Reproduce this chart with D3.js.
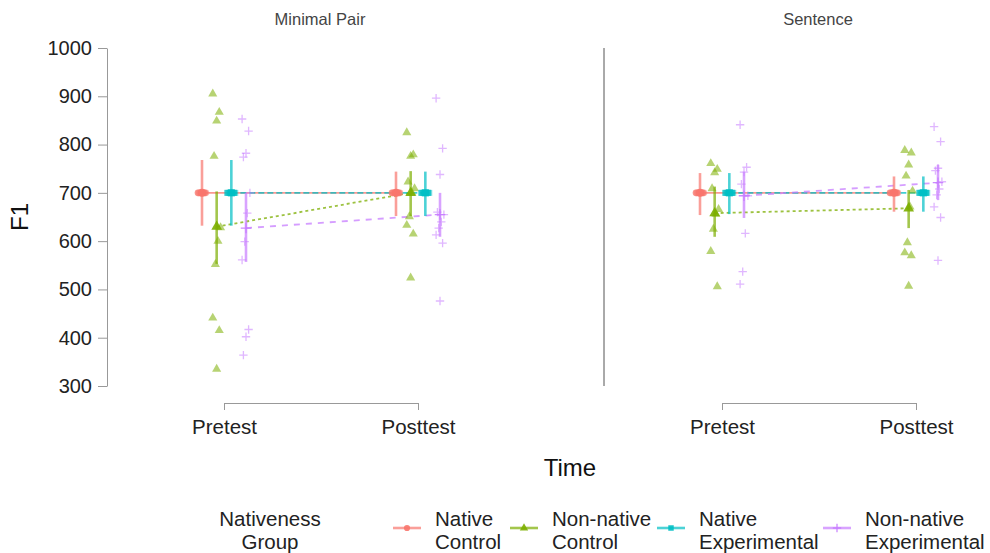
<!DOCTYPE html>
<html>
<head>
<style>
body { margin: 0; background: #fff; }
text { font-family: "Liberation Sans", Arial, sans-serif; }
</style>
</head>
<body>
<script src="https://cdn.jsdelivr.net/npm/d3@7"></script>
<script>
// F1 by time, split by task and nativeness group

var tasks = ["Minimal Pair", "Sentence"];
var times = ["Pretest", "Posttest"];
var groups = ["Native Control", "Non-native Control", "Native Experimental", "Non-native Experimental"];
var yTicks = [300, 400, 500, 600, 700, 800, 900, 1000];

// summary per group, order: MP pre, MP post, S pre, S post
var ncMean = [700, 700, 700, 700];
var ncLow = [632, 652, 654, 661];
var ncHigh = [768, 744, 741, 734];
var nncMean = [630, 700, 658, 668];
var nncLow = [553, 652, 609, 627];
var nncHigh = [703, 745, 713, 706];
var neMean = [700, 700, 700, 700];
var neLow = [632, 652, 656, 661];
var neHigh = [768, 744, 741, 734];
var nneMean = [627, 655, 694, 721];
var nneLow = [557, 609, 648, 685];
var nneHigh = [700, 700, 744, 758];

// raw F1 values
var ncRaw = [700, 700, 700, 700, 700, 700, 700, 700, 700, 700];
var neRaw = [700, 700, 700, 700, 700, 700, 700, 700, 700, 700];
var nncMpPre = [905, 867, 849, 776, 628, 600, 552, 441, 415, 335];
var nncMpPost = [825, 779, 776, 723, 709, 700, 651, 633, 615, 524];
var nncSPre = [761, 749, 742, 709, 666, 656, 625, 579, 506];
var nncSPost = [788, 783, 758, 735, 704, 671, 597, 576, 570, 507];
var nneMpPre = [853, 828, 782, 774, 700, 658, 599, 561, 417, 402, 364];
var nneMpPost = [896, 792, 738, 660, 655, 640, 627, 613, 596, 476];
var nneSPre = [841, 753, 743, 718, 694, 616, 537, 511];
var nneSPost = [837, 806, 751, 746, 723, 708, 696, 671, 649, 560];

var colors = ["#F8766D", "#7CAE00", "#00BFC4", "#C77CFF"];
var dashes = ["none", "3,3", "6,3", "6,6"];

var svg = d3.select("body").append("svg")
  .attr("width", 990)
  .attr("height", 553);

var y = d3.scaleLinear().domain([300, 1000]).range([386, 48]);
var panelX = [
  d3.scalePoint().domain(times).range([224, 418]),
  d3.scalePoint().domain(times).range([722, 916])
];
var dodge = d3.scalePoint().domain(groups).range([-22, 22]);

// plus shape like pch 3
var plusSymbol = {
  draw: function(ctx, size) {
    var r = Math.sqrt(size) / 2;
    ctx.moveTo(-r, 0); ctx.lineTo(r, 0);
    ctx.moveTo(0, -r); ctx.lineTo(0, r);
  }
};
var shapes = [d3.symbolCircle, d3.symbolTriangle, d3.symbolSquare, plusSymbol];

function drawMark(g, gi, cx, cy, size, alpha) {
  var p = g.append("path")
    .attr("d", d3.symbol().type(shapes[gi]).size(size)())
    .attr("transform", "translate(" + cx + "," + cy + ")");
  if (gi == 3) {
    p.attr("fill", "none").attr("stroke", colors[gi]).attr("stroke-width", 1.3).attr("stroke-opacity", alpha);
  } else {
    p.attr("fill", colors[gi]).attr("fill-opacity", alpha);
  }
}

var means = [ncMean, nncMean, neMean, nneMean];
var lows = [ncLow, nncLow, neLow, nneLow];
var highs = [ncHigh, nncHigh, neHigh, nneHigh];
var raws = [
  [ncRaw, ncRaw, ncRaw, ncRaw],
  [nncMpPre, nncMpPost, nncSPre, nncSPost],
  [neRaw, neRaw, neRaw, neRaw],
  [nneMpPre, nneMpPost, nneSPre, nneSPost]
];

// y axis
var yAxis = svg.append("g")
  .attr("transform", "translate(107,0)")
  .call(d3.axisLeft(y).tickValues(yTicks).tickFormat(d3.format("d")).tickSize(9).tickSizeOuter(0).tickPadding(6));
yAxis.select(".domain").attr("stroke", "#999");
yAxis.selectAll(".tick line").attr("stroke", "#999");
yAxis.selectAll(".tick text").attr("font-size", 20).attr("fill", "#222").attr("font-family", "Liberation Sans, Arial, sans-serif");

svg.append("text")
  .attr("transform", "translate(28,217) rotate(-90)")
  .attr("text-anchor", "middle")
  .attr("font-size", 24)
  .attr("fill", "#111")
  .text("F1");

// divider between panels
svg.append("line")
  .attr("x1", 604).attr("x2", 604)
  .attr("y1", y(1000)).attr("y2", y(300))
  .attr("stroke", "#555").attr("stroke-width", 1);

var titleX = [320, 818];

for (var t = 0; t < tasks.length; t++) {
  var x = panelX[t];
  var panel = svg.append("g").attr("class", "panel" + t);

  panel.append("text")
    .attr("x", titleX[t]).attr("y", 25)
    .attr("text-anchor", "middle")
    .attr("font-size", 16.5)
    .attr("fill", "#444")
    .text(tasks[t]);

  var xAxis = panel.append("g")
    .attr("transform", "translate(0,403)")
    .call(d3.axisBottom(x).tickSize(7).tickSizeOuter(0).tickPadding(9));
  xAxis.select(".domain").attr("stroke", "#999");
  xAxis.selectAll(".tick line").attr("stroke", "#999");
  xAxis.selectAll(".tick text").attr("font-size", 20.5).attr("fill", "#222").attr("font-family", "Liberation Sans, Arial, sans-serif");

  // connecting lines through means
  for (var gi = 0; gi < groups.length; gi++) {
    var pts = times.map(function(tm, k) {
      return [x(tm) + dodge(groups[gi]), y(means[gi][t * 2 + k])];
    });
    panel.append("path")
      .attr("d", d3.line()(pts))
      .attr("fill", "none")
      .attr("stroke", colors[gi])
      .attr("stroke-width", 1.8)
      .attr("stroke-opacity", 0.75)
      .attr("stroke-dasharray", dashes[gi]);
  }

  for (var gi = 0; gi < groups.length; gi++) {
    for (var k = 0; k < times.length; k++) {
      var idx = t * 2 + k;
      var cx = x(times[k]) + dodge(groups[gi]);

      // raw points, small fixed jitter
      var vals = raws[gi][idx];
      for (var i = 0; i < vals.length; i++) {
        var jit = ((i * 5) % 7 - 3) * 1.3;
        drawMark(panel, gi, cx + jit, y(vals[i]), gi == 3 ? 70 : 36, 0.55);
      }

      // error bar
      panel.append("line")
        .attr("x1", cx).attr("x2", cx)
        .attr("y1", y(lows[gi][idx])).attr("y2", y(highs[gi][idx]))
        .attr("stroke", colors[gi])
        .attr("stroke-width", 2.6)
        .attr("stroke-opacity", 0.7);

      // mean
      drawMark(panel, gi, cx, y(means[gi][idx]), gi == 3 ? 110 : 50, 0.9);
    }
  }
}

svg.append("text")
  .attr("x", 570).attr("y", 476)
  .attr("text-anchor", "middle")
  .attr("font-size", 24)
  .attr("fill", "#111")
  .text("Time");

// legend
var legend = svg.append("g");
legend.append("text")
  .attr("x", 270).attr("y", 526)
  .attr("text-anchor", "middle")
  .attr("font-size", 20.5).attr("fill", "#222")
  .text("Nativeness");
legend.append("text")
  .attr("x", 270).attr("y", 549)
  .attr("text-anchor", "middle")
  .attr("font-size", 20.5).attr("fill", "#222")
  .text("Group");

var legendTextX = [435, 552, 699, 865];
var legendLines = [["Native", "Control"], ["Non-native", "Control"], ["Native", "Experimental"], ["Non-native", "Experimental"]];
for (var gi = 0; gi < groups.length; gi++) {
  var lx = legendTextX[gi];
  legend.append("line")
    .attr("x1", lx - 42).attr("x2", lx - 14)
    .attr("y1", 528).attr("y2", 528)
    .attr("stroke", colors[gi]).attr("stroke-width", 2.6).attr("stroke-opacity", 0.7);
  drawMark(legend, gi, lx - 28, 528, gi == 3 ? 70 : 30, 0.9);
  legend.append("text")
    .attr("x", lx).attr("y", 526)
    .attr("font-size", 20.5).attr("fill", "#222")
    .text(legendLines[gi][0]);
  legend.append("text")
    .attr("x", lx).attr("y", 549)
    .attr("font-size", 20.5).attr("fill", "#222")
    .text(legendLines[gi][1]);
}
</script>
</body>
</html>
